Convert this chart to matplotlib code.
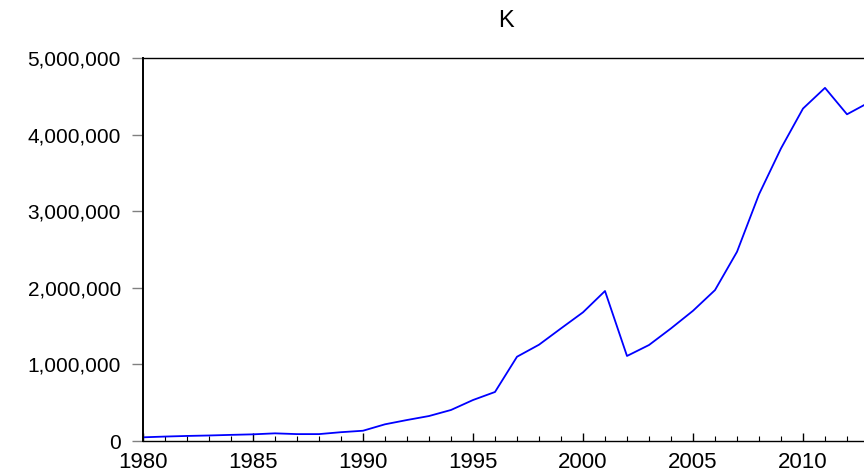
import matplotlib
matplotlib.use("Agg")
import matplotlib.pyplot as plt
from matplotlib.ticker import FuncFormatter, MultipleLocator

# K, yearly values
years = list(range(1980, 2014))
k_values = [48000, 58000, 66000, 72000, 80000, 87000, 100000, 90000, 90000, 115000,
            134000, 218000, 274000, 326000, 405000, 535000, 640000, 1100000, 1257000, 1470000,
            1680000, 1958000, 1110000, 1253000, 1470000, 1700000, 1970000, 2470000, 3220000, 3820000,
            4340000, 4610000, 4265000, 4420000]

plt.rcParams['font.family'] = ['Liberation Sans', 'DejaVu Sans']

fig = plt.figure(figsize=(8.64, 4.73), dpi=100)
# the plot runs off the right edge of the picture
ax = fig.add_axes([143/864, 32/473, 726/864, 383/473])

ax.plot(years, k_values, color='#0000ff', linewidth=1.3)

ax.set_xlim(1980, 2013)
ax.set_ylim(0, 5000000)

ax.spines['right'].set_visible(False)
for side in ['left', 'bottom', 'top']:
    ax.spines[side].set_color('black')
ax.spines['left'].set_linewidth(1.4)
ax.spines['bottom'].set_linewidth(1.0)
ax.spines['top'].set_linewidth(1.0)

ax.xaxis.set_major_locator(MultipleLocator(5))
ax.xaxis.set_minor_locator(MultipleLocator(1))
ax.yaxis.set_major_locator(MultipleLocator(1000000))
ax.yaxis.set_major_formatter(FuncFormatter(lambda v, p: '{:,.0f}'.format(v)))

ax.tick_params(axis='x', which='major', direction='in', length=5.5, width=1,
               color='black', labelsize=16, pad=8, top=False)
ax.tick_params(axis='x', which='minor', direction='in', length=3.5, width=0.8,
               color='black', top=False)
ax.tick_params(axis='y', which='major', direction='out', length=8, width=1,
               color='#808080', labelsize=15, pad=8, right=False)

ax.set_title('K', fontsize=17, pad=22)

fig.savefig('out.png', dpi=100)
